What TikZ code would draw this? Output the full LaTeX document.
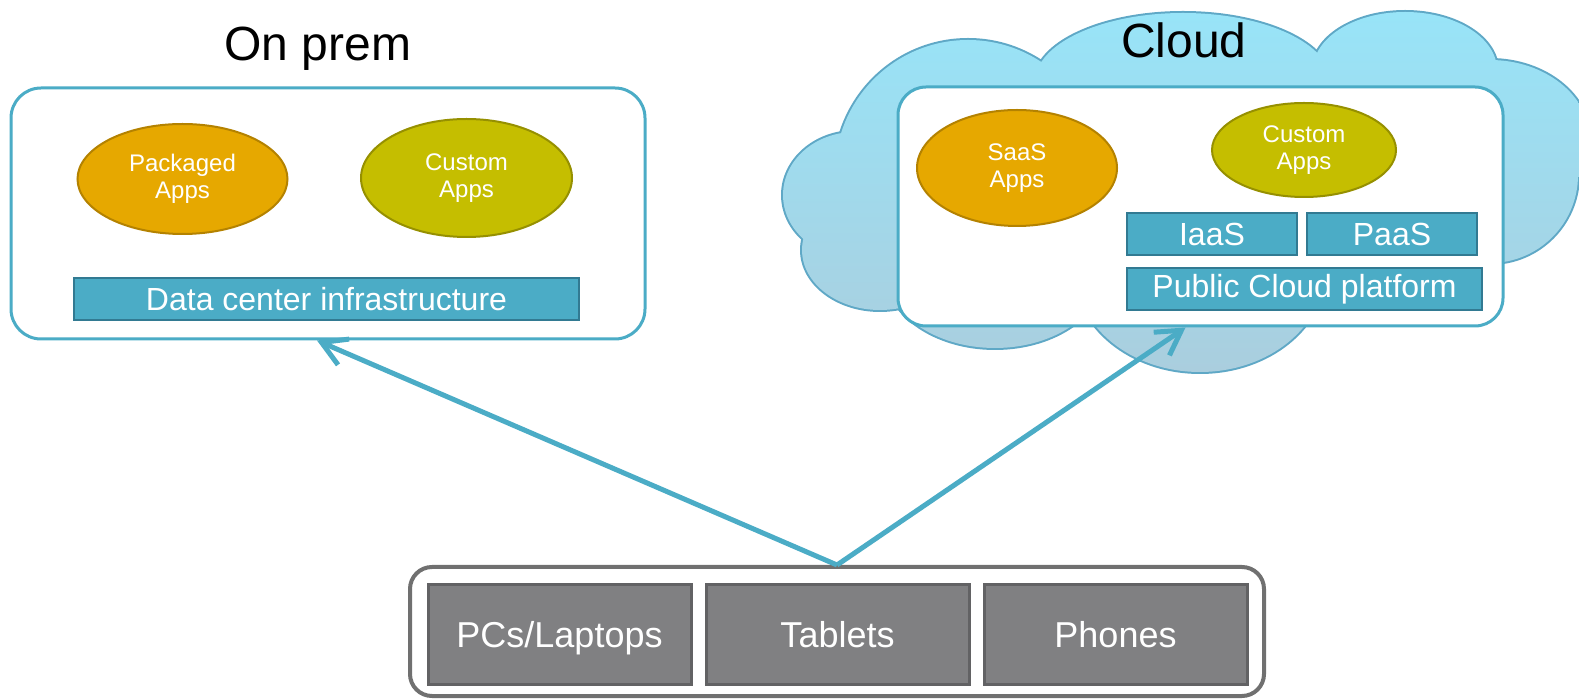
\documentclass[tikz,border=0pt]{standalone}
\usepackage{fontspec}
\setmainfont{Liberation Sans}
\usepackage{tikz}
\usetikzlibrary{positioning, shapes.geometric, arrows.meta}

\definecolor{accent}{RGB}{75,172,198}
\definecolor{barline}{RGB}{50,122,146}
\definecolor{pkgfill}{RGB}{230,168,0}
\definecolor{pkgline}{RGB}{180,130,0}
\definecolor{custfill}{RGB}{197,190,0}
\definecolor{custline}{RGB}{150,144,0}
\definecolor{devfill}{RGB}{128,128,130}
\definecolor{devline}{RGB}{98,98,100}
\definecolor{frameline}{RGB}{112,112,112}
\definecolor{cloudtop}{RGB}{152,228,248}
\definecolor{cloudbot}{RGB}{170,206,222}
\definecolor{cloudline}{RGB}{95,168,198}

% puffs of the cloud: centre x / centre y / x radius / y radius
\newcommand{\cloudpuffs}{855/195/36/31.5, 880/250/39/30, 968/173/66.5/66.5, 1183/82/74/34.5, 1405/70/46/29, 1490/140/50/40, 1490/175/44/44, 995/270/55/39, 1200/270/62.5/51}

\begin{document}
\begin{tikzpicture}[x=0.5pt, y=-0.5pt]
        % Define block styles
        \tikzstyle{panel} = [rectangle, draw=accent, line width=1.5pt, fill=white, inner sep=0pt]
        \tikzstyle{app} = [ellipse, line width=1pt, inner sep=0pt, text=white, align=center, font=\fontsize{12}{13.5}\selectfont]
        \tikzstyle{stack} = [rectangle, draw=barline, fill=accent, line width=1pt, inner sep=0pt, minimum height=21pt, text=white, font=\fontsize{16}{18}\selectfont]
        \tikzstyle{device} = [rectangle, draw=devline, fill=devfill, line width=1.5pt, inner sep=0pt, minimum width=131.5pt, minimum height=49.5pt, text height=17pt, text depth=4pt, text=white, font=\fontsize{18}{20}\selectfont]
        \tikzstyle{heading} = [anchor=base, inner sep=0pt, font=\fontsize{24}{28}\selectfont]
        \tikzstyle{puff} = [draw=cloudline, line width=2pt]
        \tikzstyle{link} = [draw=accent, line width=2.5pt, -{Straight Barb[length=12pt, width=14pt]}]

        \useasboundingbox (0,0) rectangle (1579,699);

        % Cloud: outline first, fill on top of it
        \foreach \cx/\cy/\rx/\ry in \cloudpuffs
            \draw[puff] (\cx,\cy) ellipse [x radius=\rx pt, y radius=\ry pt];
        \shade[top color=cloudtop, bottom color=cloudbot]
            (1195,205) ellipse [x radius=145pt, y radius=62.5pt]
            \foreach \cx/\cy/\rx/\ry in \cloudpuffs {(\cx,\cy) ellipse [x radius=\rx pt, y radius=\ry pt]};

        % Place nodes
        \node[heading] (onpremtitle) at (318,61) {On prem};
        \node[panel, rounded corners=15pt, minimum width=317pt, minimum height=125.5pt] (onprem) at (328,213.5) {};
        \node[app, fill=pkgfill, draw=pkgline, minimum width=105pt, minimum height=55pt] (packaged) at (182.5,179) {Packaged\\Apps};
        \node[app, fill=custfill, draw=custline, minimum width=105.5pt, minimum height=59pt] (custom) at (466.5,178) {Custom\\Apps};
        \node[stack, minimum width=252.5pt] (datacenter) at (326.5,299.5) {Data center infrastructure};

        \node[heading] (cloudtitle) at (1184,58) {Cloud};
        \node[panel, rounded corners=14pt, minimum width=302.5pt, minimum height=119.5pt] (cloudpanel) at (1200.5,206.5) {};
        \node[app, fill=pkgfill, draw=pkgline, minimum width=100pt, minimum height=58pt] (saas) at (1017,168) {SaaS\\Apps};
        \node[app, fill=custfill, draw=custline, minimum width=92pt, minimum height=47pt] (cloudcustom) at (1304,150) {Custom\\Apps};
        \node[stack, minimum width=85pt] (iaas) at (1212,234.5) {IaaS};
        \node[stack, minimum width=85pt, right=4pt of iaas] (paas) {PaaS};
        \node[stack, minimum width=177.5pt] (publiccloud) at (1304.5,289) {Public Cloud platform};

        \node[rectangle, draw=frameline, line width=2pt, rounded corners=11pt, fill=white, minimum width=427pt, minimum height=64.5pt] (devices) at (837,631.5) {};
        \node[device] (pcs) at (559.5,634.5) {PCs/Laptops};
        \node[device, right=6pt of pcs] (tablets) {Tablets};
        \node[device, right=6pt of tablets] (phones) {Phones};

        % Draw connections as arrows
        \draw[link] (devices.north) -- ([xshift=-5.5pt]onprem.south);
        \draw[link] (devices.north) -- ([xshift=-7.5pt]cloudpanel.south);

\end{tikzpicture}
\end{document}
